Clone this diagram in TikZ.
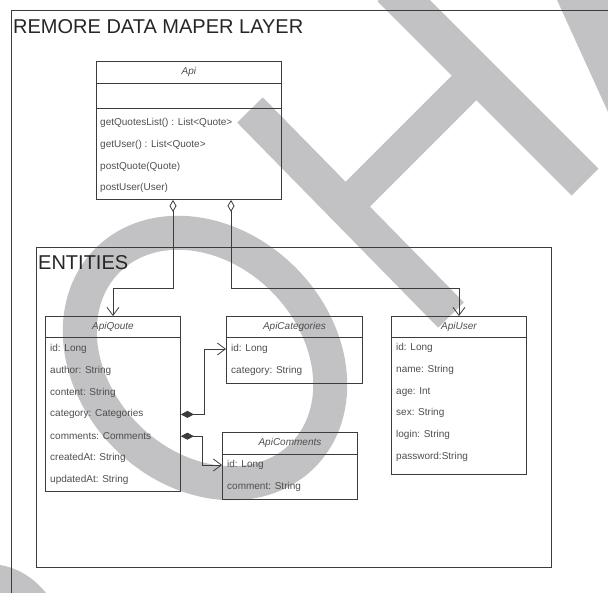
\documentclass[tikz,border=0pt]{standalone}
\usepackage{fontspec}
\setmainfont{Liberation Sans}
\usetikzlibrary{calc,arrows.meta}

\definecolor{wmark}{RGB}{194,194,196}
\definecolor{umlline}{RGB}{60,60,60}
\definecolor{umltext}{RGB}{78,78,78}

\tikzset{
  frameline/.style={draw=umlline, line width=0.8pt},
  classbox/.style={draw=umlline, line width=0.9pt, anchor=north west, inner sep=0pt},
  classline/.style={draw=umlline, line width=0.9pt},
  classname/.style={inner sep=0pt, font=\fontsize{10}{12}\selectfont\itshape, text=umltext},
  attr/.style={anchor=west, inner sep=0pt, font=\fontsize{10}{12}\selectfont, text=umltext},
  layertitle/.style={anchor=base west, inner sep=0pt, font=\fontsize{20}{24}\selectfont, text=black!85},
  conn/.style={draw=umlline, line width=0.8pt},
  aggr/.style={conn, {Diamond[open,length=12pt,width=7pt]}-{Straight Barb[length=8pt,width=12pt]}},
  comp/.style={conn, {Diamond[length=13pt,width=7pt]}-{Straight Barb[length=8pt,width=12pt]}},
}

\begin{document}
\begin{tikzpicture}[x=1pt,y=-1pt]
  \path[use as bounding box] (0,0) rectangle (608,593);
  \clip (0,0) rectangle (608,593);

  % watermark
  \draw[wmark, line width=34pt, rotate around={-45:(205,358)}] (205,358) ellipse [x radius=138, y radius=111];
  \draw[wmark, line width=36pt] (250,110) -- (451,315);
  \draw[wmark, line width=38pt] (391,-12) -- (585,182);
  \draw[wmark, line width=35pt] (346,206) -- (477,75);
  \fill[wmark] (557,0) -- (608,0) -- (608,112) -- cycle;
  \fill[wmark] (0,565) .. controls (18,568) and (34,578) .. (46,593) -- (0,593) -- cycle;

  % layers
  \draw[frameline] (11,593) -- (11,10) -- (608,10);
  \node[layertitle] (layer) at (13,34) {REMORE DATA MAPER LAYER};
  \node[classbox, minimum width=515pt, minimum height=320pt] (entities) at (36,247) {};
  \node[layertitle] (entitiestitle) at (38,270) {ENTITIES};

  % Api
  \node[classbox, minimum width=185pt, minimum height=138pt] (api) at (96,61) {};
  \draw[classline] ($(api.north west)+(0,22)$) -- ($(api.north east)+(0,22)$);
  \draw[classline] ($(api.north west)+(0,47)$) -- ($(api.north east)+(0,47)$);
  \node[classname] (apiname) at ($(api.north)+(0,11)$) {Api};
  \foreach \t [count=\i] in {getQuotesList() : List<Quote>, getUser() : List<Quote>, postQuote(Quote), postUser(User)}
    \node[attr] (api\i) at ($(api.north west)+(4,{62+21.8*(\i-1)})$) {\t};

  % ApiQoute
  \node[classbox, minimum width=135pt, minimum height=175pt] (quote) at (45,316) {};
  \draw[classline] ($(quote.north west)+(0,21)$) -- ($(quote.north east)+(0,21)$);
  \node[classname] (quotename) at ($(quote.north)+(0,11)$) {ApiQoute};
  \foreach \t [count=\i] in {id: Long, author: String, content: String, category: Categories, comments: Comments, createdAt: String, updatedAt: String}
    \node[attr] (quote\i) at ($(quote.north west)+(5,{33+21.8*(\i-1)})$) {\t};

  % ApiCategories
  \node[classbox, minimum width=136pt, minimum height=67pt] (cat) at (226,316) {};
  \draw[classline] ($(cat.north west)+(0,21)$) -- ($(cat.north east)+(0,21)$);
  \node[classname] (catname) at ($(cat.north)+(0,11)$) {ApiCategories};
  \foreach \t [count=\i] in {id: Long, category: String}
    \node[attr] (cat\i) at ($(cat.north west)+(5,{33+21.8*(\i-1)})$) {\t};

  % ApiComments
  \node[classbox, minimum width=135pt, minimum height=67pt] (com) at (222,432) {};
  \draw[classline] ($(com.north west)+(0,22)$) -- ($(com.north east)+(0,22)$);
  \node[classname] (comname) at ($(com.north)+(0,11)$) {ApiComments};
  \foreach \t [count=\i] in {id: Long, comment: String}
    \node[attr] (com\i) at ($(com.north west)+(5,{33+21.8*(\i-1)})$) {\t};

  % ApiUser
  \node[classbox, minimum width=135pt, minimum height=158pt] (user) at (391,316) {};
  \draw[classline] ($(user.north west)+(0,21)$) -- ($(user.north east)+(0,21)$);
  \node[classname] (username) at ($(user.north)+(0,11)$) {ApiUser};
  \foreach \t [count=\i] in {id: Long, name: String, age: Int, sex: String, login: String, password:String}
    \node[attr] (user\i) at ($(user.north west)+(5,{32+21.8*(\i-1)})$) {\t};

  % links
  \draw[aggr] ($(api.south west)+(77,0)$) -- ++(0,89) -| (quote.north);
  \draw[aggr] ($(api.south west)+(135,0)$) -- ++(0,89) -| (user.north);
  \draw[comp] (quote.east |- quote4) -- ++(23,0) |- (cat.west |- cat1);
  \draw[comp] (quote.east |- quote5) -- ++(21,0) |- (com.west |- com1);

\end{tikzpicture}
\end{document}
